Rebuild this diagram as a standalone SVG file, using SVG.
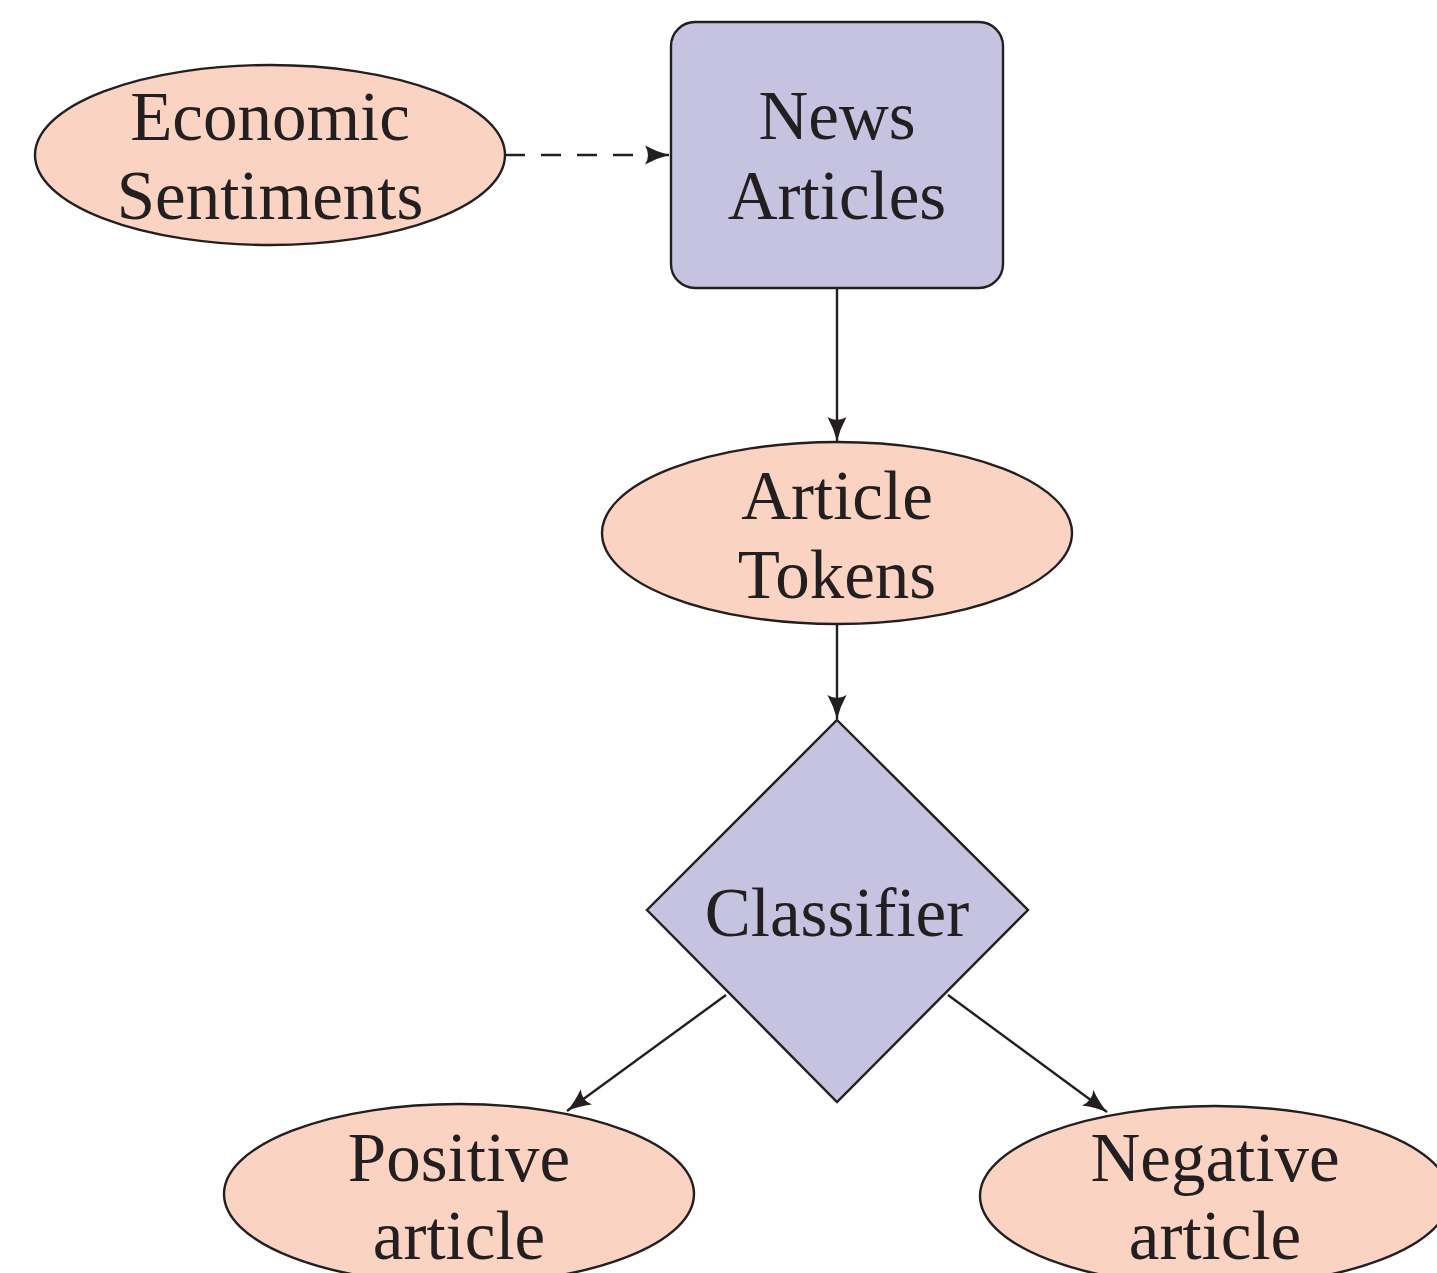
<svg xmlns="http://www.w3.org/2000/svg" width="1437" height="1273" viewBox="0 0 1437 1273">
<style>
.ell{fill:#FBD3C2;stroke:#231F20;stroke-width:2.4}
.pur{fill:#C6C3E1;stroke:#231F20;stroke-width:2.4}
.t{font-family:"Liberation Serif","DejaVu Serif",serif;font-size:69px;fill:#231F20;text-anchor:middle}
.c{stroke:#231F20;stroke-width:2.4;fill:none;marker-end:url(#ah)}
</style>
<defs>
<marker id="ah" markerWidth="26" markerHeight="20" viewBox="0 0 26 20" refX="24" refY="10" orient="auto" markerUnits="userSpaceOnUse">
<path d="M0,0.5 Q12,7 24,10 Q12,13 0,19.5 Q6,10 0,0.5 Z" fill="#231F20"/>
</marker>
</defs>
<rect width="1437" height="1273" fill="#fff"/>
<g id="connectors">
<path class="c" d="M505,155 H669" stroke-dasharray="20,16"/>
<path class="c" d="M837,288 V441"/>
<path class="c" d="M837,624 V719"/>
<path class="c" d="M726,995 L567,1111"/>
<path class="c" d="M948,995 L1107,1112"/>
</g>
<g id="economic">
<ellipse class="ell" cx="270" cy="155" rx="235" ry="90"/>
<text class="t" x="270" y="140">Economic</text>
<text class="t" x="270" y="219">Sentiments</text>
</g>
<g id="news">
<rect class="pur" x="671" y="22" width="332" height="266" rx="24"/>
<text class="t" x="837" y="139">News</text>
<text class="t" x="837" y="219">Articles</text>
</g>
<g id="tokens">
<ellipse class="ell" cx="837" cy="533" rx="235" ry="91"/>
<text class="t" x="837" y="519">Article</text>
<text class="t" x="837" y="598">Tokens</text>
</g>
<g id="classifier">
<polygon class="pur" points="837,720 1028,910 837,1102 647,910"/>
<text class="t" x="837" y="936">Classifier</text>
</g>
<g id="positive">
<ellipse class="ell" cx="459" cy="1194" rx="235" ry="90"/>
<text class="t" x="459" y="1181">Positive</text>
<text class="t" x="459" y="1259">article</text>
</g>
<g id="negative">
<ellipse class="ell" cx="1215" cy="1196" rx="235" ry="90"/>
<text class="t" x="1215" y="1181">Negative</text>
<text class="t" x="1215" y="1259">article</text>
</g>
</svg>
